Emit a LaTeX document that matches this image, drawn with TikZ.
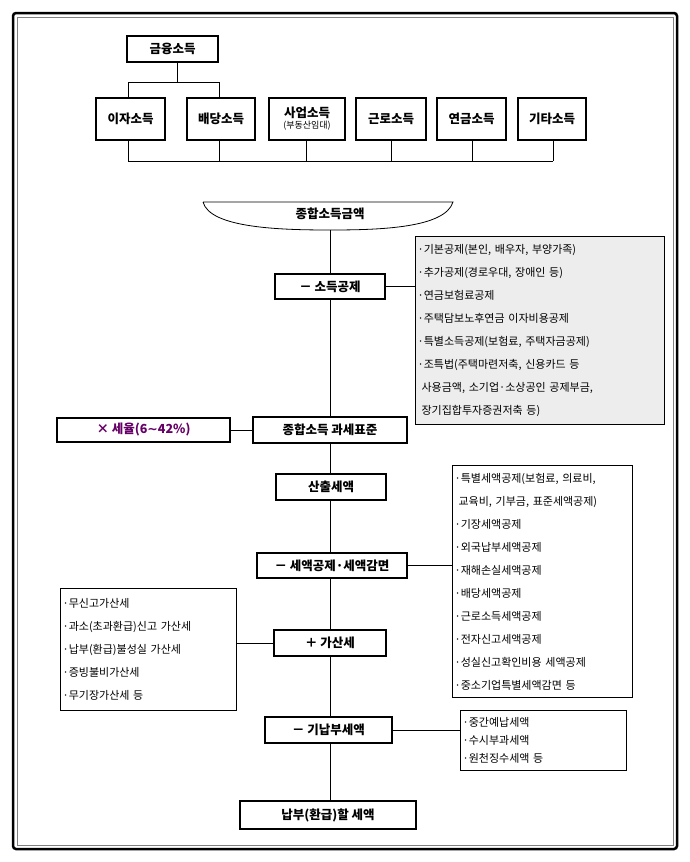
\documentclass[tikz,border=0pt]{standalone}
\usepackage{fontspec}
\setmainfont{Noto Sans CJK KR}
\newfontfamily\dejavu{DejaVu Sans}
\begin{document}
\begin{tikzpicture}[x=1pt,y=-1pt,
 bx/.style={draw,line width=1.6pt,fill=white,inner sep=0pt,font=\fontsize{12.5}{14}\selectfont\bfseries},
 lst/.style={draw,line width=1.2pt,inner sep=0pt,align=left,font=\fontsize{11}{23}\selectfont,anchor=north west,text width=#1},
 ln/.style={line width=0.8pt}]
\useasboundingbox (0,0) rectangle (690,862);
\draw[line width=2.5pt,rounded corners=3pt] (13,13) rectangle (677,849);
\draw[line width=0.6pt,gray] (17,17) rectangle (673,845);
\node[bx,minimum width=91,minimum height=26] (fin) at (172.5,49) {금융소득};
\foreach \n/\l/\r/\t in {a/96/165/이자소득,b/187/255/배당소득,d/356/426/근로소득,e/437/506/연금소득,f/518/586/기타소득}
  \node[bx,minimum width=\r-\l,minimum height=42] (\n) at ({(\l+\r)/2},119) {\t};
\node[bx,minimum width=76,minimum height=42,align=center] (c) at (307,119) {사업소득\\[-3pt]{\fontsize{9}{10}\selectfont\mdseries(부동산임대)}};
\coordinate (j1) at (177,82);
\draw[ln] (fin.south -| j1) -- (j1) (128,82) -- (219,82) (128,82) -- (128,98) (219,82) -- (219,98);
\draw[ln] (128,140) -- (128,161) -- (553,161);
\foreach \x in {219,306,391,472,553} \draw[ln] (\x,140) -- (\x,161);
\draw[line width=0.8pt,fill=white] (203,202) -- (453,202) .. controls (445,228) and (380,230) .. (330,230) .. controls (280,230) and (210,228) .. (203,202);
\node[font=\fontsize{12.5}{14}\selectfont\bfseries] (tot) at (330,214) {종합소득금액};
\coordinate (tb) at (330,230);
\coordinate (end) at (330,801);
\draw[ln] (tb) -- (end);
\node[bx,minimum width=110,minimum height=25] (s1) at (330,286.5) {－ 소득공제};
\node[bx,minimum width=154,minimum height=26] (s2) at (330,430) {종합소득 과세표준};
\node[bx,minimum width=110,minimum height=26] (s3) at (331,487) {산출세액};
\node[bx,minimum width=150,minimum height=25] (s4) at (332,565.5) {－ 세액공제·세액감면};
\node[bx,minimum width=112,minimum height=26] (s5) at (330,643) {＋ 가산세};
\node[bx,minimum width=127,minimum height=26] (s6) at (328.5,730) {－ 기납부세액};
\node[bx,minimum width=176,minimum height=28] (s7) at (328,815) {납부(환급)할 세액};
\node[lst=249pt,fill=black!7,minimum height=188] (l1) at (415,236) {\hspace*{2pt}·기본공제(본인, 배우자, 부양가족)\\\hspace*{2pt}·추가공제(경로우대, 장애인 등)\\\hspace*{2pt}·연금보험료공제\\\hspace*{2pt}·주택담보노후연금 이자비용공제\\\hspace*{2pt}·특별소득공제(보험료, 주택자금공제)\\\hspace*{2pt}·조특법(주택마련저축, 신용카드 등\\\hspace*{6pt}사용금액, 소기업·소상공인 공제부금,\\\hspace*{6pt}장기집합투자증권저축 등)};
\draw[ln] (s1.east) -- (s1.east -| l1.west);
\node[draw,line width=1.4pt,minimum width=173,minimum height=24,inner sep=0pt,text=violet!80!black,font=\fontsize{12.5}{14}\selectfont\bfseries] (tx) at (143.5,430) {× 세율(6{\dejavu ∼}42\%)};
\draw[ln] (tx.east) -- (s2.west);
\node[lst=180pt,minimum height=232] (l2) at (452,465) {\hspace*{2pt}·특별세액공제(보험료, 의료비,\\\hspace*{6pt}교육비, 기부금, 표준세액공제)\\\hspace*{2pt}·기장세액공제\\\hspace*{2pt}·외국납부세액공제\\\hspace*{2pt}·재해손실세액공제\\\hspace*{2pt}·배당세액공제\\\hspace*{2pt}·근로소득세액공제\\\hspace*{2pt}·전자신고세액공제\\\hspace*{2pt}·성실신고확인비용 세액공제\\\hspace*{2pt}·중소기업특별세액감면 등};
\draw[ln] (s4.east) -- (s4.east -| l2.west);
\node[lst=176pt,minimum height=122] (l3) at (60,588) {\hspace*{2pt}·무신고가산세\\\hspace*{2pt}·과소(초과환급)신고 가산세\\\hspace*{2pt}·납부(환급)불성실 가산세\\\hspace*{2pt}·증빙불비가산세\\\hspace*{2pt}·무기장가산세 등};
\draw[ln] (s5.west) -- (s5.west -| l3.east);
\node[lst=166pt,minimum height=60,font=\fontsize{11}{18}\selectfont] (l4) at (460,710) {\hspace*{2pt}·중간예납세액\\\hspace*{2pt}·수시부과세액\\\hspace*{2pt}·원천징수세액 등};
\draw[ln] (s6.east) -- (s6.east -| l4.west);
\end{tikzpicture}
\end{document}
